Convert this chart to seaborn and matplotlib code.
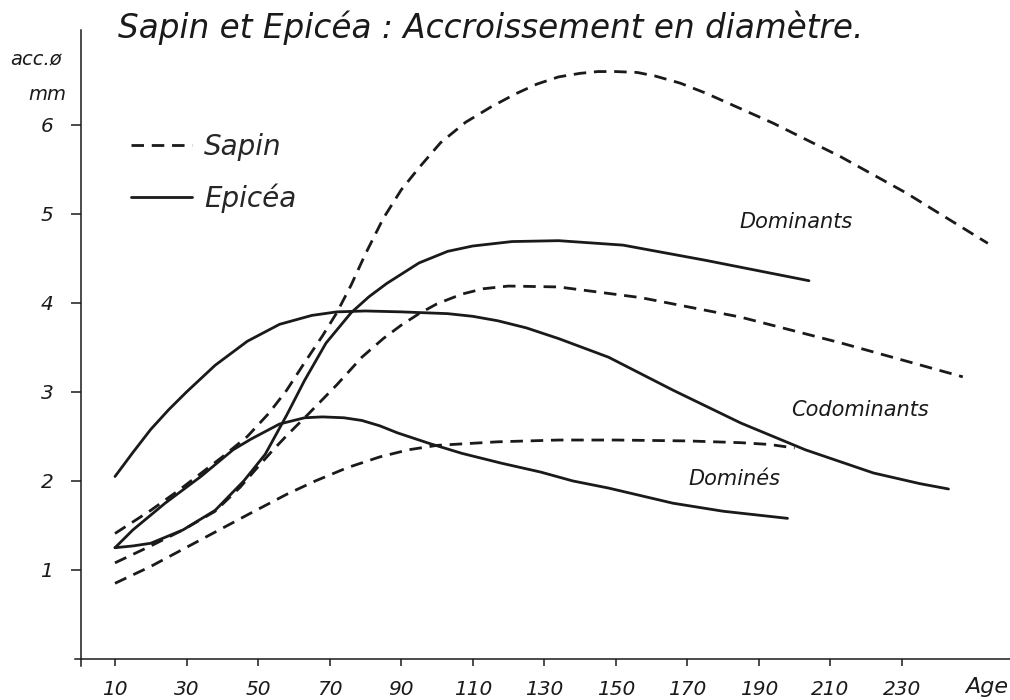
import matplotlib
matplotlib.use("Agg")
import matplotlib.pyplot as plt
import pandas as pd
import seaborn as sns

# ---- data ----
sapin_dom_age = [10, 20, 28, 40, 47, 53, 58, 63, 68, 72, 76, 80, 85, 90, 95, 101, 108, 115, 122, 128, 134, 140, 145, 150, 156, 161, 168, 175, 194, 213, 231, 254]
sapin_dom_acc = [1.41, 1.67, 1.90, 2.27, 2.50, 2.76, 3.02, 3.33, 3.63, 3.89, 4.2, 4.55, 4.95, 5.27, 5.52, 5.8, 6.03, 6.2, 6.35, 6.46, 6.54, 6.58, 6.6, 6.6, 6.59, 6.55, 6.47, 6.36, 6.02, 5.64, 5.24, 4.67]

epicea_dom_age = [10, 15, 20, 29, 38, 46, 52, 58, 63, 69, 76, 81, 86, 95, 103, 110, 121, 134, 152, 175, 204]
epicea_dom_acc = [1.25, 1.27, 1.3, 1.45, 1.67, 2.0, 2.3, 2.74, 3.13, 3.55, 3.89, 4.07, 4.22, 4.45, 4.58, 4.64, 4.69, 4.7, 4.65, 4.48, 4.25]

sapin_codom_age = [10, 20, 29, 38, 45, 50, 54, 58, 64, 72, 79, 85, 90, 95, 100, 107, 113, 120, 134, 157, 185, 213, 247]
sapin_codom_acc = [1.08, 1.27, 1.45, 1.66, 1.93, 2.16, 2.34, 2.51, 2.75, 3.08, 3.39, 3.6, 3.75, 3.88, 3.99, 4.1, 4.16, 4.19, 4.18, 4.06, 3.84, 3.55, 3.17]

epicea_codom_age = [10, 15, 20, 25, 30, 38, 47, 56, 65, 72, 80, 90, 103, 110, 117, 125, 134, 148, 166, 185, 203, 222, 235, 243]
epicea_codom_acc = [2.05, 2.32, 2.58, 2.8, 3.0, 3.3, 3.57, 3.76, 3.86, 3.9, 3.91, 3.9, 3.88, 3.85, 3.8, 3.72, 3.6, 3.39, 3.02, 2.65, 2.35, 2.09, 1.97, 1.91]

sapin_domine_age = [10, 20, 34, 48, 58, 66, 75, 84, 92, 100, 117, 134, 150, 170, 185, 193, 200]
sapin_domine_acc = [0.85, 1.04, 1.34, 1.64, 1.85, 2.0, 2.15, 2.27, 2.35, 2.4, 2.44, 2.46, 2.46, 2.45, 2.43, 2.41, 2.37]

epicea_domine_age = [10, 15, 24, 34, 43, 48, 56, 63, 68, 74, 79, 84, 89, 98, 107, 118, 129, 138, 148, 166, 180, 198]
epicea_domine_acc = [1.25, 1.45, 1.75, 2.05, 2.35, 2.47, 2.64, 2.71, 2.72, 2.71, 2.68, 2.62, 2.54, 2.42, 2.31, 2.2, 2.1, 2.0, 1.92, 1.75, 1.66, 1.58]

x_ticks = [10, 30, 50, 70, 90, 110, 130, 150, 170, 190, 210, 230]
y_ticks = [1, 2, 3, 4, 5, 6]
species_names = ["Sapin", "Epicéa"]
class_labels = ["Dominants", "Codominants", "Dominés"]
title_text = "Sapin et Epicéa : Accroissement en diamètre."

curves = [
    ("Sapin", "Dominants", sapin_dom_age, sapin_dom_acc),
    ("Epicéa", "Dominants", epicea_dom_age, epicea_dom_acc),
    ("Sapin", "Codominants", sapin_codom_age, sapin_codom_acc),
    ("Epicéa", "Codominants", epicea_codom_age, epicea_codom_acc),
    ("Sapin", "Dominés", sapin_domine_age, sapin_domine_acc),
    ("Epicéa", "Dominés", epicea_domine_age, epicea_domine_acc),
]
rows = []
for sp, cl, ages, vals in curves:
    for a, v in zip(ages, vals):
        rows.append({"species": sp, "classe": cl, "curve": sp + "-" + cl, "age": a, "acc": v})
df = pd.DataFrame(rows)

# ---- figure ----
sns.set_style("ticks")
plt.rcParams["font.family"] = ["DejaVu Sans"]
ink = "#1a1a1a"

fig = plt.figure(figsize=(10.1, 7.0), dpi=100)
fig.patch.set_facecolor("white")
ax = fig.add_axes([75 / 1010, 34 / 700, 935 / 1010, 636 / 700])

sns.lineplot(data=df, x="age", y="acc", units="curve", estimator=None,
             style="species", style_order=species_names,
             dashes={"Sapin": (4.5, 2.8), "Epicéa": ""},
             color=ink, lw=2.0, sort=True, ax=ax)

ax.set_xlim(-1.18, 260.2)
ax.set_ylim(-0.079, 7.067)
sns.despine(ax=ax)
ax.spines["left"].set_position(("data", 0.5))
ax.spines["bottom"].set_position(("data", 0))
for s in ("left", "bottom"):
    ax.spines[s].set_linewidth(1.1)
    ax.spines[s].set_color(ink)

ax.set_xticks(x_ticks)
ax.set_yticks(y_ticks)
ax.set_xticklabels([str(t) for t in x_ticks], style="italic")
ax.set_yticklabels([str(t) for t in y_ticks], style="italic")
ax.tick_params(axis="x", direction="out", length=5, width=1.1, pad=10, labelsize=14.5, colors=ink)
ax.tick_params(axis="y", direction="out", length=7, width=1.1, pad=13, labelsize=14.5, colors=ink)
ax.set_xlabel("")
ax.set_ylabel("")

# legend
handles, labels = ax.get_legend_handles_labels()
hl = [(h, l) for h, l in zip(handles, labels) if l in species_names]
ax.legend([h for h, _ in hl], [l for _, l in hl], loc="upper left",
          bbox_to_anchor=(131 / 1010, 1 - 133 / 700), bbox_transform=fig.transFigure,
          frameon=False, handlelength=2.2, handletextpad=0.42,
          labelspacing=0.8, borderpad=0, borderaxespad=0,
          prop={"style": "italic", "size": 20})

# class labels
ax.text(200.5, 4.91, class_labels[0], ha="center", va="center", style="italic", fontsize=15, color=ink)
ax.text(218.3, 2.80, class_labels[1], ha="center", va="center", style="italic", fontsize=15, color=ink)
ax.text(183.3, 2.02, class_labels[2], ha="center", va="center", style="italic", fontsize=15, color=ink)

# title and axis texts
fig.text(118 / 1010, 1 - 38 / 700, title_text, ha="left", va="baseline",
         style="italic", fontsize=23.5, color=ink)
fig.text(36 / 1010, 1 - 60 / 700, "acc.ø", ha="center", va="center", style="italic", fontsize=14, color=ink)
fig.text(47 / 1010, 1 - 95 / 700, "mm", ha="center", va="center", style="italic", fontsize=14, color=ink)
fig.text(987 / 1010, 1 - 687 / 700, "Age", ha="center", va="center", style="italic", fontsize=16, color=ink)

fig.savefig("out.png", dpi=100, facecolor="white")
